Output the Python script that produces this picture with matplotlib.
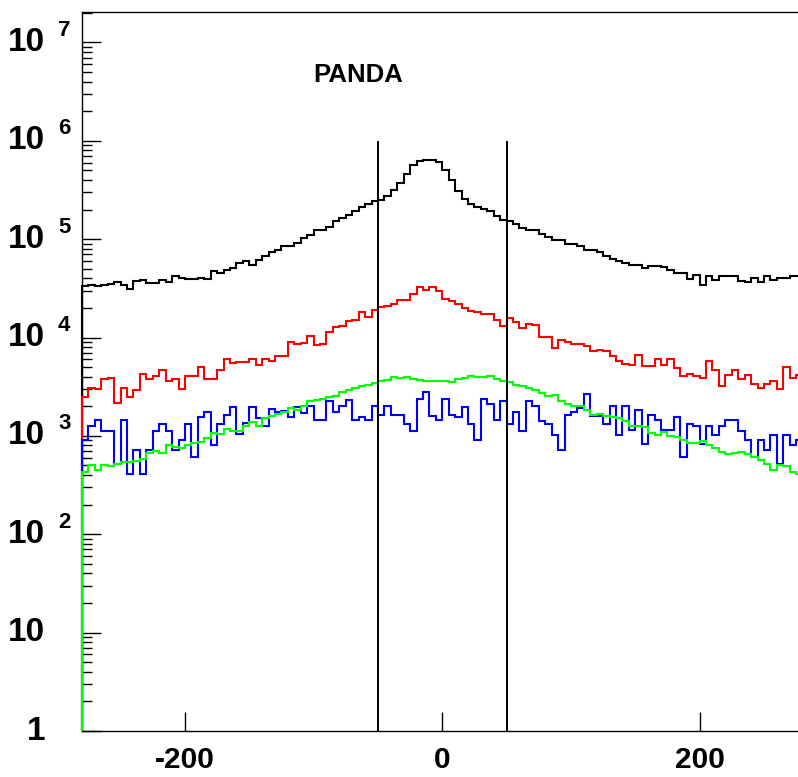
import numpy as np
import matplotlib
matplotlib.use("Agg")
import matplotlib.pyplot as plt
from matplotlib.ticker import LogLocator, NullFormatter
from matplotlib.transforms import offset_copy

plt.rcParams['font.family'] = ['Liberation Sans', 'DejaVu Sans']
plt.rcParams['font.weight'] = 'bold'

# 112 bins of width 5 from -280 to 280
bin_edges = np.arange(-280, 281, 5)

black = [33100, 33900, 33100, 33900, 35000, 36400, 34400, 31400, 37200, 38700,
         35800, 35800, 38700, 36400, 41900, 40300, 39400, 39400, 40300, 39400,
         47100, 45300, 48900, 50900, 57300, 59400, 55000, 60900, 67900, 73400,
         78200, 85900, 85900, 91500, 102800, 111100, 125000, 125000, 133000, 152000,
         164000, 177000, 192000, 213000, 230000, 246000, 252000, 277000, 314000, 373000,
         460000, 573000, 629000, 644000, 644000, 604000, 509000, 397000, 306000, 256000,
         228000, 213000, 203000, 192000, 171000, 158000, 152000, 141000, 130000, 123000,
         123000, 114000, 105000, 98900, 98900, 89400, 89400, 84500, 78200, 78200,
         73400, 67900, 63300, 60400, 57300, 55000, 55000, 50900, 52900, 53700,
         51700, 48200, 45300, 45300, 39400, 43500, 34400, 41900, 38100, 42500,
         41900, 41900, 37200, 36400, 40300, 36400, 41900, 38700, 40300, 40300,
         42500, 42500]

red = [2480, 3060, 2990, 3810, 3870, 2160, 3060, 2480, 2900, 4250,
       3810, 4030, 4700, 3580, 3810, 2990, 4030, 4090, 5010, 3810,
       3810, 4700, 6080, 5500, 5580, 5580, 6040, 5290, 6080, 5720,
       6530, 6530, 8920, 8650, 8790, 10300, 8450, 8650, 11270, 12790,
       13180, 14580, 14930, 18010, 16150, 18870, 20400, 20730, 22080, 24260,
       23860, 27900, 32640, 30620, 32640, 29430, 24820, 23310, 22080, 19950,
       18440, 18010, 17470, 17470, 14930, 12970, 15790, 14250, 12490, 13810,
       13490, 10120, 10120, 7820, 9500, 8920, 8590, 8590, 8260, 7220,
       7390, 7220, 6430, 5720, 5410, 5290, 6680, 5170, 5170, 6040,
       5290, 6080, 4890, 4030, 4250, 4090, 3870, 5720, 4700, 3180,
       4180, 4700, 3780, 4180, 3390, 3060, 3390, 3580, 2990, 5010,
       3870, 4180]

blue = [912, 1247, 1435, 1127, 1127, 520, 1435, 408, 711, 408,
        711, 1109, 1328, 1109, 711, 912, 1328, 617, 1553, 1746,
        812, 1328, 1640, 1946, 1050, 1349, 1946, 1517, 1247, 1873,
        1731, 1800, 1553, 1946, 1706, 1991, 1459, 1435, 2239, 1731,
        2024, 2330, 1435, 1553, 1435, 2024, 1640, 2024, 1640, 1640,
        1328, 1127, 2367, 2765, 1576, 1435, 2367, 1640, 1553, 1963,
        1328, 912, 2367, 2122, 1435, 2239, 1328, 1731, 1127, 2239,
        1991, 1402, 1328, 1026, 711, 1640, 1731, 1918, 2681, 1576,
        1600, 1328, 2024, 1026, 2024, 1136, 1844, 831, 1640, 1459,
        1136, 1136, 1553, 608, 1328, 1247, 831, 1247, 1026, 1247,
        1435, 1435, 1109, 912, 617, 912, 711, 1026, 520, 1026,
        812, 912]

green = [434, 508, 445, 508, 496, 520, 537, 549, 562, 585,
         668, 694, 668, 799, 780, 751, 812, 845, 857, 949,
         1067, 1050, 1181, 1127, 1109, 1247, 1368, 1267, 1517, 1600,
         1679, 1731, 1918, 1812, 2024, 2239, 2291, 2367, 2480, 2558,
         2765, 2944, 3060, 3234, 3311, 3444, 3580, 3722, 3964, 3870,
         3964, 3780, 3722, 3580, 3580, 3636, 3580, 3497, 3780, 3870,
         4030, 3964, 3964, 4030, 3780, 3580, 3497, 3311, 3180, 3060,
         2944, 2725, 2518, 2618, 2239, 2122, 2024, 2024, 1844, 1640,
         1679, 1576, 1553, 1517, 1402, 1247, 1247, 1228, 1067, 1026,
         1083, 986, 971, 898, 845, 845, 877, 812, 751, 678,
         658, 668, 678, 658, 617, 571, 520, 452, 508, 496,
         425, 412]

cut_positions = [-50, 50]
x_ticks = [-200, 0, 200]
y_decades = [1, 10, 1e2, 1e3, 1e4, 1e5, 1e6, 1e7]
y_bases = ['1', '10', '10', '10', '10', '10', '10', '10']
y_exps = ['', '', '2', '3', '4', '5', '6', '7']

fig = plt.figure(figsize=(7.98, 7.77), dpi=100)
ax = fig.add_axes([0.1028, 0.0592, 0.9029, 0.9257])

for vals, col in [(black, 'black'), (red, '#ff0000'), (blue, '#0000ff'), (green, '#00ff00')]:
    ax.stairs(vals, bin_edges, baseline=1, color=col, lw=1.5, zorder=3, clip_on=False)

ax.vlines(cut_positions, 1, 1e6, color='black', lw=1.4, zorder=4)

ax.set_yscale('log')
ax.set_xlim(-280, 280)
ax.set_ylim(1, 2.05e7)

ax.yaxis.set_major_locator(LogLocator(base=10, numticks=20))
ax.yaxis.set_minor_locator(LogLocator(base=10, subs=range(2, 10), numticks=20))
ax.yaxis.set_minor_formatter(NullFormatter())
ax.tick_params(axis='y', which='major', direction='in', length=14, width=1,
               left=True, right=False, labelleft=False)
ax.tick_params(axis='y', which='minor', direction='in', length=7, width=1,
               left=True, right=False)

ax.set_xticks(x_ticks)
ax.set_xticklabels([str(v) for v in x_ticks])
ax.tick_params(axis='x', which='major', direction='in', length=14, width=1,
               labelsize=21.5, pad=11, top=False)

for sp in ax.spines.values():
    sp.set_linewidth(1.0)

# y labels, ROOT style "10" with detached exponent
base_tr = offset_copy(ax.get_yaxis_transform(), fig=fig, x=-37, y=0, units='dots')
exp_tr = offset_copy(ax.get_yaxis_transform(), fig=fig, x=-24, y=12, units='dots')
for val, b, e in zip(y_decades, y_bases, y_exps):
    ax.text(0, val, b, transform=base_tr, ha='right', va='center', fontsize=24,
            fontweight='bold', clip_on=False)
    if e:
        ax.text(0, val, e, transform=exp_tr, ha='left', va='center', fontsize=16,
                fontweight='bold', clip_on=False)

ax.text(-100, 4e6, 'PANDA', ha='left', va='baseline', fontsize=18.5, fontweight='bold')

fig.savefig('out.png', dpi=100)
